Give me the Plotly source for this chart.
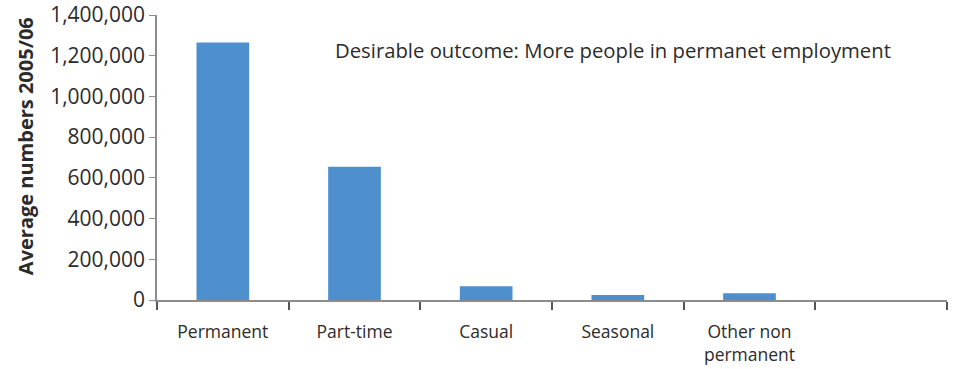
import plotly.graph_objects as go

categories = ["Permanent", "Part-time", "Casual", "Seasonal", "Other non<br>permanent", " "]
values = [1265000, 655000, 68000, 24000, 33000, None]
y_ticks = [0, 200000, 400000, 600000, 800000, 1000000, 1200000, 1400000]
y_title = "Average numbers 2005/06"
note = "Desirable outcome: More people in permanet employment"

FONT = "Open Sans"
AXIS = "#8c8c8c"
TEXT = "#2b2b2b"

fig = go.Figure(go.Bar(x=categories, y=values, marker=dict(color="#4E8FCE", line=dict(width=0)), width=0.4))

fig.update_layout(
    width=953, height=369,
    margin=dict(l=157, r=6, t=15, b=69),
    paper_bgcolor="white", plot_bgcolor="white",
    showlegend=False,
    font=dict(family=FONT, color=TEXT),
    bargap=0.6,
)
fig.update_xaxes(
    type="category", tickson="boundaries", ticks="outside", ticklen=8, tickwidth=1.5,
    tickcolor="#555555", showline=True, linecolor=AXIS, linewidth=2, showgrid=False,
    tickfont=dict(size=17.5, family=FONT, color=TEXT), ticklabelstandoff=15,
    automargin=False,
)
fig.update_yaxes(
    range=[0, 1400000], tickvals=y_ticks, tickformat=",d", ticks="outside", ticklen=6,
    tickcolor=AXIS, showline=True, linecolor=AXIS, linewidth=1.5, showgrid=False,
    zeroline=False, tickfont=dict(size=21, family=FONT, color=TEXT), automargin=False,
)
fig.add_annotation(
    text="<b>" + y_title + "</b>", xref="paper", yref="paper", x=-0.167, y=0.54,
    xanchor="center", yanchor="middle", textangle=-90, showarrow=False,
    font=dict(size=20, family=FONT, color=TEXT),
)
fig.add_annotation(
    text=note, xref="paper", yref="paper", x=0.2228, y=0.877, xanchor="left", yanchor="middle",
    showarrow=False, font=dict(size=20.3, family=FONT, color=TEXT),
)
fig.write_html("out.html")
